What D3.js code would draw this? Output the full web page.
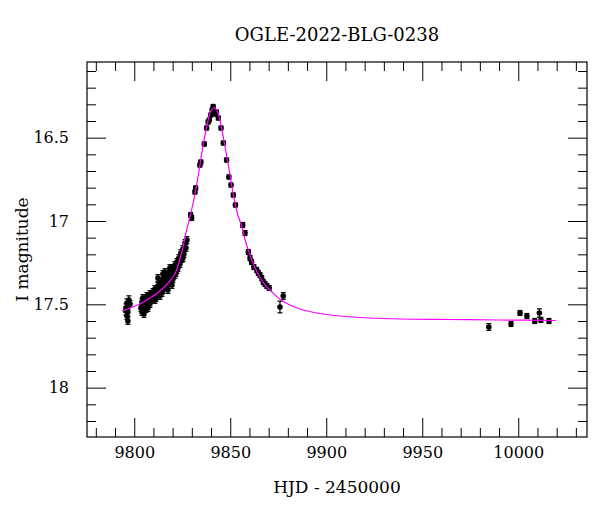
<!DOCTYPE html>
<html><head><meta charset="utf-8">
<script src="https://cdn.jsdelivr.net/npm/d3@7"></script>
<style>
html,body{margin:0;padding:0;background:#fff;}
svg text{font-family:"DejaVu Serif",serif;fill:#000;}
</style></head>
<body><svg id="c" width="600" height="512"></svg>
<script>
// Observed OGLE photometry
const hjd = [
 9795.7,9796.2,9796.7,9796.7,9797.2,9796.2,9796.7,9797.8,9795.7,
 9803.49,9804.01,9804.01,9804.53,9805.05,9805.57,9806.09,9806.61,9807.14,9807.66,
 9808.18,9808.18,9808.70,9809.22,9809.74,9810.26,9810.78,9811.30,9811.82,9812.34,
 9812.86,9813.39,9813.39,9813.91,9814.43,9814.95,9815.47,9815.99,9816.51,9817.03,
 9817.55,9818.07,9818.59,9819.11,9819.64,9820.16,9820.68,9821.20,9821.72,9822.24,
 9822.76,9823.28,9823.80,9824.32,9824.84,9825.36,9825.89,9826.41,9826.93,9827.45,
 9812.34,9814.43,9815.99,9817.55,9818.59,9819.64,9821.20,9822.24,9816.51,9814.95,9810.78,9807.14,9805.05,9825.36,
 9829.4,9829.9,9831.6,9832.0,9834.2,9834.7,9836.5,9837.7,9838.5,9839.1,9839.9,9840.6,9841.1,
 9842.4,9842.8,9843.8,9845.2,9846.4,9848.1,9849.3,9850.4,9851.6,9852.7,
 9856.5,9857.7,9859.4,9860.3,9861.1,9862.3,9863.8,9864.6,9865.5,9866.4,9867.2,9868.1,9869.1,9870.3,
 9877.6,9875.9,
 9984.7,9996.2,10000.9,10004.5,10008.6,10011.0,10011.8,10016.0
];
const mag = [
 17.522,17.492,17.546,17.510,17.474,17.570,17.600,17.498,17.540,
 17.522,17.486,17.546,17.462,17.510,17.480,17.528,17.450,17.492,17.468,
 17.438,17.498,17.456,17.474,17.426,17.450,17.408,17.462,17.420,17.390,
 17.432,17.378,17.450,17.402,17.360,17.414,17.342,17.384,17.330,17.396,
 17.354,17.306,17.372,17.330,17.282,17.348,17.300,17.264,17.312,17.246,
 17.282,17.222,17.258,17.192,17.228,17.168,17.198,17.132,17.162,17.114,
 17.342,17.432,17.306,17.414,17.282,17.384,17.324,17.294,17.366,17.318,17.474,17.522,17.558,17.222,
 16.964,16.982,16.826,16.802,16.664,16.646,16.538,16.442,16.406,16.394,16.364,16.334,16.313,
 16.358,16.346,16.382,16.442,16.532,16.634,16.736,16.784,16.844,16.904,
 17.024,17.072,17.186,17.222,17.246,17.276,17.294,17.312,17.324,17.342,17.366,17.378,17.390,17.402,
 17.450,17.516,
 17.636,17.618,17.552,17.570,17.600,17.552,17.594,17.600
];
const err = [
 0.025,0.025,0.025,0.02,0.025,0.02,0.02,0.02,0.025,
 0.02,0.02,0.02,0.02,0.02,0.02,0.02,0.02,0.02,0.02,
 0.02,0.02,0.02,0.02,0.02,0.02,0.02,0.02,0.02,0.02,
 0.02,0.02,0.02,0.02,0.02,0.02,0.02,0.02,0.02,0.02,
 0.02,0.02,0.02,0.02,0.02,0.02,0.02,0.02,0.02,0.02,
 0.02,0.02,0.02,0.02,0.02,0.02,0.02,0.02,0.02,0.02,
 0.02,0.02,0.02,0.02,0.02,0.02,0.02,0.02,0.02,0.02,0.02,0.02,0.02,0.02,
 0.015,0.015,0.012,0.012,0.012,0.012,0.012,0.012,0.012,0.012,0.012,0.012,0.012,
 0.012,0.012,0.012,0.012,0.012,0.012,0.012,0.012,0.012,0.012,
 0.015,0.015,0.015,0.015,0.015,0.015,0.015,0.015,0.015,0.015,0.015,0.015,0.015,0.015,
 0.02,0.035,
 0.02,0.015,0.015,0.015,0.015,0.025,0.015,0.015
];
// Model light curve
const modelHjd = [9793.6,9797.8,9803.0,9808.2,9813.4,9818.6,9821.2,9823.8,9825.4,9826.9,9829.0,9831.1,9833.2,9835.8,9838.4,9839.9,9841.8,9843.6,9845.4,9847.2,9849.1,9850.9,9852.4,9854.0,9856.1,9858.2,9861.8,9866.0,9869.1,9871.7,9876.4,9881.1,9886.3,9896.7,9907.1,9922.7,9938.3,9964.4,9990.4,10019.6];
const modelMag = [17.540,17.522,17.498,17.462,17.420,17.360,17.318,17.228,17.156,17.072,16.976,16.868,16.736,16.550,16.400,16.340,16.319,16.352,16.436,16.550,16.670,16.796,16.886,16.964,17.036,17.132,17.252,17.348,17.396,17.426,17.474,17.504,17.528,17.555,17.570,17.582,17.588,17.591,17.594,17.597];
const xMajor = [9800,9850,9900,9950,10000];
const yMajor = [16.5,17,17.5,18];
const title = "OGLE-2022-BLG-0238";
const xTitle = "HJD - 2450000";
const yTitle = "I magnitude";

const L=87,R=587,T=62,B=437;
const svg=d3.select("#c");
const x=d3.scaleLinear().domain([9775.4,10035.8]).range([L,R]);
const y=d3.scaleLinear().domain([16.046,18.296]).range([T,B]);

const xMinor=d3.range(9780,10036,10).filter(v=>!xMajor.includes(v));
const yMinor=d3.range(161,183,1).map(v=>v/10).filter(v=>v>16.046&&v<18.296&&!yMajor.some(m=>Math.abs(m-v)<1e-9));

function axis(gen,pos,vals,size,labels,pad){
  const g=svg.append("g").attr("transform",pos).call(gen.tickValues(vals).tickSize(size).tickPadding(pad||0).tickFormat(labels?d3.format(""):()=>""));
  g.select(".domain").remove();
  g.selectAll("line").attr("stroke","#000").attr("stroke-width",1);
  g.selectAll("text").style("font-size","16px").style("font-family","DejaVu Serif");
  return g;
}
axis(d3.axisBottom(x),`translate(0,${B})`,xMajor,-19,true,10);
axis(d3.axisBottom(x),`translate(0,${B})`,xMinor,-9,false);
axis(d3.axisTop(x),`translate(0,${T})`,xMajor,-19,false);
axis(d3.axisTop(x),`translate(0,${T})`,xMinor,-9,false);
axis(d3.axisLeft(y),`translate(${L},0)`,yMajor,-19,true,18);
axis(d3.axisLeft(y),`translate(${L},0)`,yMinor,-9,false);
axis(d3.axisRight(y),`translate(${R},0)`,yMajor,-19,false);
axis(d3.axisRight(y),`translate(${R},0)`,yMinor,-9,false);

svg.append("rect").attr("x",L).attr("y",T).attr("width",R-L).attr("height",B-T)
  .attr("fill","none").attr("stroke","#000").attr("stroke-width",1.2);

const pts=hjd.map((d,i)=>({t:d,m:mag[i],e:err[i]}));
const eb=svg.append("g").attr("stroke","#000").attr("stroke-width",1.2);
pts.forEach(p=>{
  const cx=x(p.t),y1=y(p.m-p.e),y2=y(p.m+p.e);
  eb.append("line").attr("x1",cx).attr("x2",cx).attr("y1",y1).attr("y2",y2);
  eb.append("line").attr("x1",cx-2.5).attr("x2",cx+2.5).attr("y1",y1).attr("y2",y1);
  eb.append("line").attr("x1",cx-2.5).attr("x2",cx+2.5).attr("y1",y2).attr("y2",y2);
});
svg.append("g").selectAll("circle").data(pts).join("circle")
  .attr("cx",d=>x(d.t)).attr("cy",d=>y(d.m)).attr("r",2.8).attr("fill","#000");

const model=modelHjd.map((d,i)=>[d,modelMag[i]]);
svg.append("path").datum(model)
  .attr("d",d3.line().x(d=>x(d[0])).y(d=>y(d[1])).curve(d3.curveCatmullRom))
  .attr("fill","none").attr("stroke","#ff00ff").attr("stroke-width",1.2);

svg.append("text").attr("x",(L+R)/2).attr("y",41).attr("text-anchor","middle").style("font-size","18px").text(title);
svg.append("text").attr("x",(L+R)/2).attr("y",493).attr("text-anchor","middle").style("font-size","17px").text(xTitle);
svg.append("text").attr("transform",`translate(28,${(T+B)/2}) rotate(-90)`).attr("text-anchor","middle").style("font-size","17px").text(yTitle);
</script></body></html>
